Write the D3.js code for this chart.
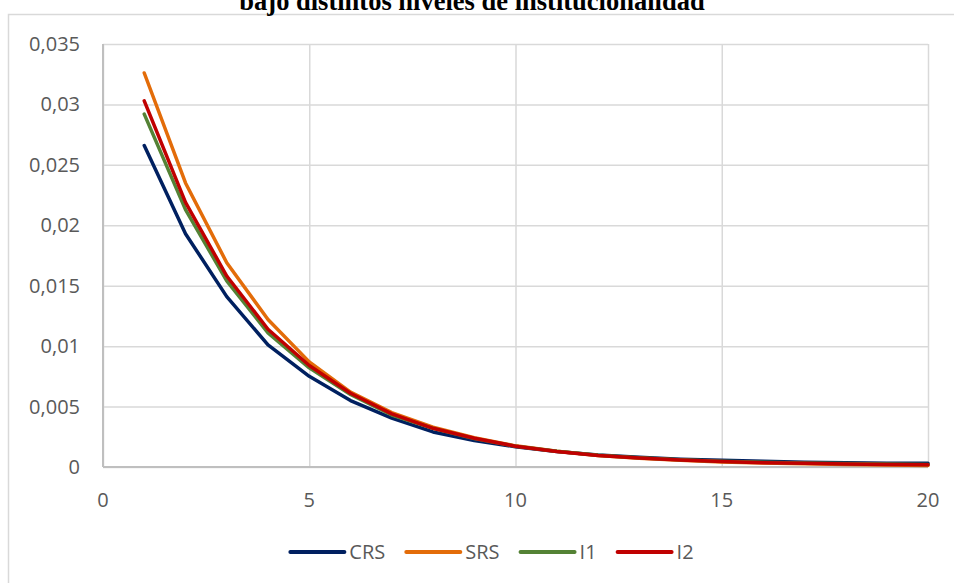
<!DOCTYPE html>
<html>
<head>
<meta charset="utf-8">
<script src="https://cdn.jsdelivr.net/npm/d3@7"></script>
<style>
  body { margin: 0; background: #fff; }
  svg { display: block; }
  .tick-label { font-family: "Open Sans", sans-serif; font-size: 20px; fill: #595959; }
  .legend-label { font-family: "Open Sans", sans-serif; font-size: 20px; fill: #595959; }
</style>
</head>
<body>
<svg id="chart" width="954" height="583"></svg>
<script>
const titleText = 'bajo distintos niveles de institucionalidad';
const periods = [1, 2, 3, 4, 5, 6, 7, 8, 9, 10, 11, 12, 13, 14, 15, 16, 17, 18, 19, 20];
const seriesNames = ['CRS', 'SRS', 'I1', 'I2'];
const crs = [0.0266, 0.0193, 0.0141, 0.0101, 0.0075, 0.0055, 0.00405, 0.0029, 0.0022, 0.00168, 0.00128, 0.001, 0.0008, 0.00065, 0.00055, 0.00047, 0.0004, 0.00035, 0.00032, 0.0003];
const srs = [0.0326, 0.0235, 0.0169, 0.0122, 0.0087, 0.0062, 0.0045, 0.0033, 0.00243, 0.00175, 0.0013, 0.00095, 0.00072, 0.00055, 0.00042, 0.00033, 0.00026, 0.0002, 0.00016, 0.00013];
const i1 = [0.0292, 0.0213, 0.0154, 0.0111, 0.0082, 0.006, 0.0043, 0.0032, 0.00235, 0.00172, 0.0013, 0.00098, 0.00077, 0.0006, 0.00048, 0.0004, 0.00033, 0.00028, 0.00024, 0.0002];
const i2 = [0.0303, 0.0219, 0.0158, 0.0114, 0.0084, 0.0061, 0.0044, 0.0032, 0.00238, 0.00172, 0.00128, 0.00096, 0.00074, 0.00057, 0.00045, 0.00036, 0.0003, 0.00025, 0.00021, 0.00018];
const xTicks = [0, 5, 10, 15, 20];
const yTicks = [0, 0.005, 0.01, 0.015, 0.02, 0.025, 0.03, 0.035];

const colors = ['#002060', '#e36c09', '#548235', '#c00000'];
const allValues = [crs, srs, i1, i2];

const svg = d3.select('#chart');
const margin = {top: 44, right: 26, bottom: 116, left: 103};
const width = +svg.attr('width');
const height = +svg.attr('height');
const innerWidth = width - margin.left - margin.right;
const innerHeight = height - margin.top - margin.bottom;

const es = d3.formatLocale({decimal: ',', thousands: '.', grouping: [3], currency: ['', '']});
const fmtY = d => d === 0 ? '0' : es.format('.3~f')(d);

// outer chart frame
svg.append('rect')
    .attr('x', 8.5).attr('y', 14.5)
    .attr('width', 960).attr('height', 600)
    .attr('fill', 'none')
    .attr('stroke', '#d9d9d9')
    .attr('stroke-width', 1.5);

svg.append('text')
    .attr('x', 472)
    .attr('y', 10)
    .attr('text-anchor', 'middle')
    .attr('font-family', '"Liberation Serif", serif')
    .attr('font-weight', 'bold')
    .attr('font-size', '26.5px')
    .attr('fill', '#000')
    .text(titleText);

const g = svg.append('g')
    .attr('transform', `translate(${margin.left}, ${margin.top})`);

const xScale = d3.scaleLinear().domain([0, 20]).range([0, innerWidth]);
const yScale = d3.scaleLinear().domain([0, 0.035]).range([innerHeight, 0]);

// grid
g.append('g').attr('class', 'grid-y')
    .call(d3.axisLeft(yScale).tickValues(yTicks).tickSize(-innerWidth).tickFormat(''))
    .call(s => s.select('.domain').remove())
    .call(s => s.selectAll('line').attr('stroke', '#d9d9d9').attr('stroke-width', 1.5));

g.append('g').attr('class', 'grid-x')
    .attr('transform', `translate(0, ${innerHeight})`)
    .call(d3.axisBottom(xScale).tickValues(xTicks).tickSize(-innerHeight).tickFormat(''))
    .call(s => s.select('.domain').remove())
    .call(s => s.selectAll('line').attr('stroke', '#d9d9d9').attr('stroke-width', 1.5));

// axis lines
g.append('line')
    .attr('x1', 0).attr('x2', innerWidth)
    .attr('y1', yScale(0)).attr('y2', yScale(0))
    .attr('stroke', '#bfbfbf').attr('stroke-width', 2);
g.append('line')
    .attr('x1', 0).attr('x2', 0)
    .attr('y1', 0).attr('y2', innerHeight)
    .attr('stroke', '#bfbfbf').attr('stroke-width', 2);

// tick labels
g.selectAll('.ylab').data(yTicks).enter().append('text')
    .attr('class', 'tick-label')
    .attr('x', -23)
    .attr('y', d => yScale(d))
    .attr('dy', '0.35em')
    .attr('text-anchor', 'end')
    .text(fmtY);

g.selectAll('.xlab').data(xTicks).enter().append('text')
    .attr('class', 'tick-label')
    .attr('x', d => xScale(d))
    .attr('y', innerHeight + 33)
    .attr('dy', '0.35em')
    .attr('text-anchor', 'middle')
    .text(d => d);

// lines
const lineGenerator = d3.line()
    .x((d, i) => xScale(periods[i]))
    .y(d => yScale(d));

g.selectAll('.line-path').data(allValues).enter().append('path')
    .attr('class', 'line-path')
    .attr('d', lineGenerator)
    .attr('fill', 'none')
    .attr('stroke', (d, i) => colors[i])
    .attr('stroke-width', 3.5)
    .attr('stroke-linejoin', 'round')
    .attr('stroke-linecap', 'round');

// legend
const legend = svg.append('g');
const legendY = 552;
let lx = 0;
seriesNames.forEach((name, i) => {
    const item = legend.append('g').attr('transform', `translate(${lx}, ${legendY})`);
    item.append('line')
        .attr('x1', 0).attr('x2', 54)
        .attr('stroke', colors[i])
        .attr('stroke-width', 4)
        .attr('stroke-linecap', 'round');
    const t = item.append('text')
        .attr('class', 'legend-label')
        .attr('x', 59)
        .attr('dy', '0.35em')
        .text(name);
    lx += 59 + t.node().getComputedTextLength() + 21;
});
const legendWidth = lx - 21;
legend.attr('transform', `translate(${492 - legendWidth / 2}, 0)`);
</script>
</body>
</html>
